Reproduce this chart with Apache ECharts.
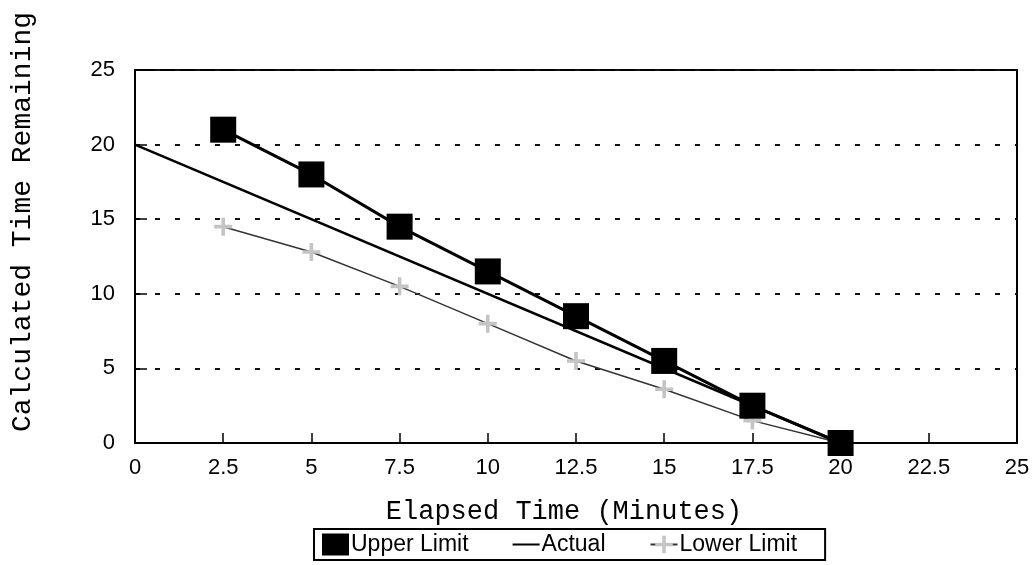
<!DOCTYPE html>
<html>
<head>
<meta charset="utf-8">
<script src="https://cdn.jsdelivr.net/npm/echarts@6/dist/echarts.min.js"></script>
<style>
  html, body { margin: 0; padding: 0; background: #fff; }
  #chart { width: 1034px; height: 565px; }
</style>
</head>
<body>
<div id="chart"></div>
<script>
// 数据
const elapsed = [2.5, 5, 7.5, 10, 12.5, 15, 17.5, 20]
const upperLimit = [21, 18, 14.5, 11.5, 8.5, 5.5, 2.5, 0]
const lowerLimit = [14.5, 12.8, 10.5, 8, 5.5, 3.6, 1.5, 0]
const actualX = [0, 20]
const actual = [20, 0]
const legendNames = ['Upper Limit', 'Actual', 'Lower Limit']

const pair = (xs, ys) => xs.map((x, i) => [x, ys[i]])

const chart = echarts.init(document.getElementById('chart'))

// 图例和点的小图形
const plus = 'path://M4,0H6V4H10V6H6V10H4V6H0V4H4Z'
const dash = 'path://M0,10H27V12H0Z M0,0H0.01V0.01H0Z M27,22H26.99V21.99H27Z'

const option = {
  animation: false,
  backgroundColor: '#fff',
  grid: {
    left: 135, right: 17, top: 70, bottom: 122,
    show: true,
    borderColor: '#000',
    borderWidth: 2
  },
  xAxis: {
    type: 'value',
    min: 0, max: 25, interval: 2.5,
    axisLine: { show: true, lineStyle: { color: '#000', width: 2 } },
    axisTick: { show: true, inside: true, length: 10, lineStyle: { color: '#000', width: 1.5 } },
    axisLabel: { fontFamily: 'Liberation Sans', fontSize: 22, color: '#000', margin: 14 },
    splitLine: { show: false }
  },
  yAxis: {
    type: 'value',
    min: 0, max: 25, interval: 5,
    axisLine: { show: true, lineStyle: { color: '#000', width: 2 } },
    axisTick: { show: true, inside: true, length: 12, lineStyle: { color: '#000', width: 1.5 } },
    axisLabel: { fontFamily: 'Liberation Sans', fontSize: 22, color: '#000', margin: 20 },
    splitLine: { show: true, lineStyle: { color: '#111', width: 2, type: [5, 15] } }
  },
  // 两个轴标题
  graphic: [{
    type: 'text',
    x: 23, y: 222,
    rotation: Math.PI / 2,
    style: {
      text: 'Calculated Time Remaining',
      font: '28px "Liberation Mono"',
      fill: '#000',
      textAlign: 'center', textVerticalAlign: 'middle',
      align: 'center', verticalAlign: 'middle'
    }
  }, {
    type: 'text',
    x: 564, y: 512,
    style: {
      text: 'Elapsed Time (Minutes)',
      font: '27px "Liberation Mono"',
      fill: '#000',
      textAlign: 'center', textVerticalAlign: 'middle',
      align: 'center', verticalAlign: 'middle'
    }
  }],
  legend: {
    data: [
      { name: legendNames[0], icon: 'rect' },
      { name: legendNames[1], icon: dash },
      { name: legendNames[2] }
    ],
    left: 314, top: 529,
    itemWidth: 27, itemHeight: 22, itemGap: 44,
    padding: [4, 28, 4, 8],
    borderColor: '#000', borderWidth: 2, borderRadius: 0,
    textStyle: { fontFamily: 'Liberation Sans', fontSize: 23, color: '#000', padding: [0, 0, 0, -3] }
  },
  series: [
    {
      name: legendNames[0],
      type: 'line',
      data: pair(elapsed, upperLimit),
      symbol: 'rect', symbolSize: 26,
      itemStyle: { color: '#000' },
      lineStyle: { color: '#000', width: 3 },
      z: 4
    },
    {
      name: legendNames[1],
      type: 'line',
      data: pair(actualX, actual),
      showSymbol: false,
      itemStyle: { color: '#000' },
      lineStyle: { color: '#000', width: 2.5 },
      z: 3
    },
    {
      name: legendNames[2],
      type: 'line',
      data: pair(elapsed, lowerLimit),
      symbol: plus, symbolSize: 18,
      itemStyle: { color: '#c4c4c4' },
      lineStyle: { color: '#333', width: 1.5 },
      z: 2
    }
  ]
}

chart.setOption(option)
</script>
</body>
</html>
